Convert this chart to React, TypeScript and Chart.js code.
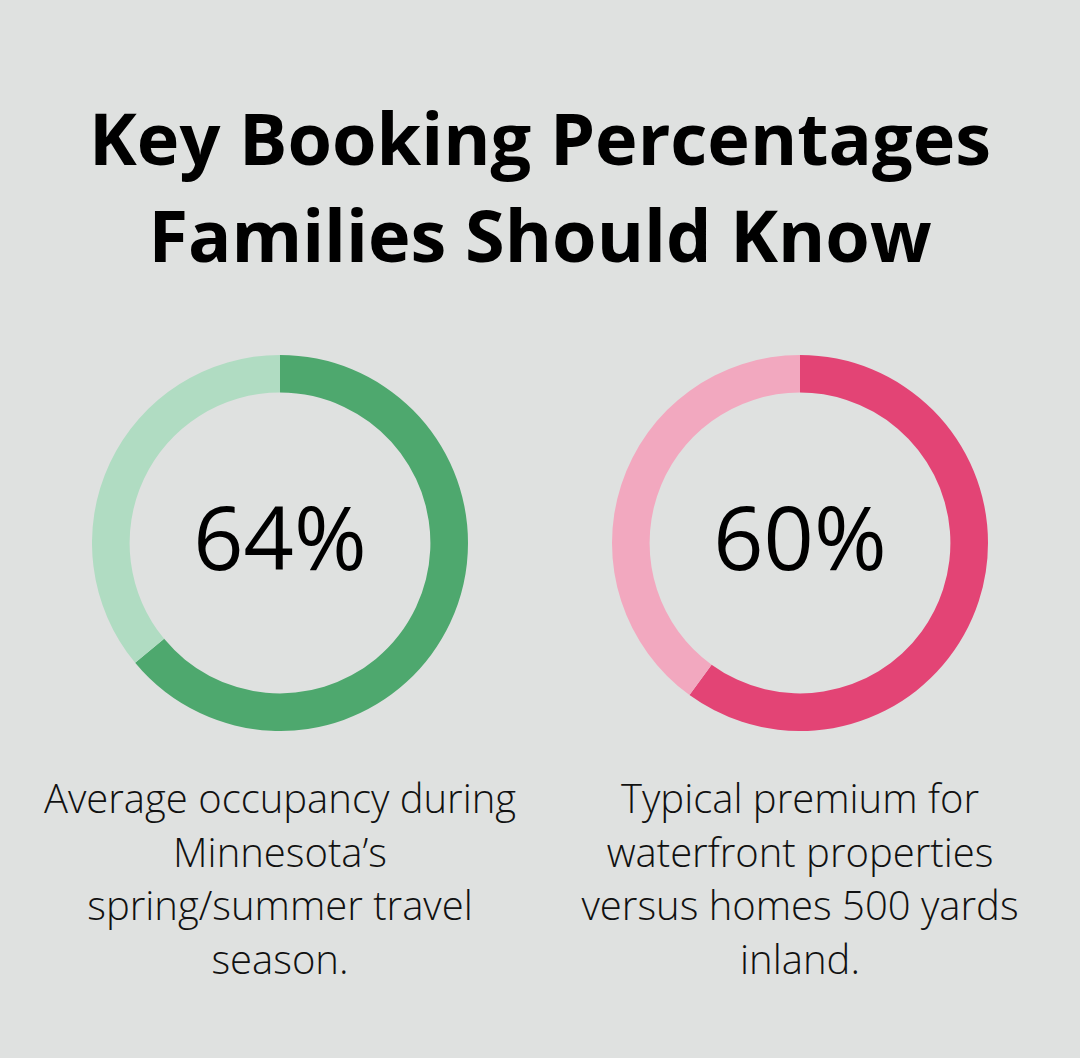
import React, { useEffect, useRef } from "react";
import { Chart, registerables } from "chart.js";

Chart.register(...registerables);

const titleLines = ["Key Booking Percentages", "Families Should Know"];
const percentValues = [64, 60];
const valueLabels = ["64%", "60%"];
const captionLines = [
  ["Average occupancy during", "Minnesota\u2019s", "spring/summer travel", "season."],
  ["Typical premium for", "waterfront properties", "versus homes 500 yards", "inland."],
];
const mainColors = ["#4ea86e", "#e34475"];
const restColors = ["#b0dcc2", "#f2a8bf"];
const centersX = [280, 800];

const FONT = "'Open Sans', 'Noto Sans', sans-serif";

function Donut({ idx }: { idx: number }) {
  const ref = useRef<HTMLCanvasElement | null>(null);
  useEffect(() => {
    if (!ref.current) return;
    const v = percentValues[idx];
    const chart = new Chart(ref.current, {
      type: "doughnut",
      data: {
        labels: ["value", "rest"],
        datasets: [
          {
            data: [v, 100 - v],
            backgroundColor: [mainColors[idx], restColors[idx]],
            borderWidth: 0,
          },
        ],
      },
      options: {
        responsive: false,
        animation: false,
        cutout: "80%",
        layout: { padding: 0 },
        plugins: { legend: { display: false }, tooltip: { enabled: false } },
      },
    });
    return () => chart.destroy();
  }, [idx]);
  const size = 376;
  const cx = centersX[idx];
  return (
    <>
      <canvas
        ref={ref}
        width={size}
        height={size}
        style={{ position: "absolute", left: cx - size / 2, top: 543 - size / 2, width: size, height: size }}
      />
      <div
        style={{
          position: "absolute",
          left: cx - 200,
          width: 400,
          top: 476,
          height: 120,
          lineHeight: "120px",
          textAlign: "center",
          fontFamily: FONT,
          fontWeight: 500,
          fontSize: 88,
          color: "#000",
        }}
      >
        {valueLabels[idx]}
      </div>
      <div
        style={{
          position: "absolute",
          left: cx - 260,
          width: 520,
          top: 771,
          textAlign: "center",
          fontFamily: FONT,
          fontWeight: 300,
          fontSize: 40,
          lineHeight: "53.5px",
          color: "#111",
        }}
      >
        {captionLines[idx].map((l, i) => (
          <div key={i}>{l}</div>
        ))}
      </div>
    </>
  );
}

export default function App() {
  return (
    <div
      style={{
        position: "absolute",
        left: 0,
        top: 0,
        width: 1080,
        height: 1058,
        background: "#dfe1e0",
        overflow: "hidden",
      }}
    >
      <div
        style={{
          position: "absolute",
          left: 0,
          width: 1080,
          top: 89,
          textAlign: "center",
          fontFamily: FONT,
          fontWeight: 700,
          fontSize: 72,
          lineHeight: "97px",
          color: "#000",
        }}
      >
        {titleLines.map((l, i) => (
          <div key={i}>{l}</div>
        ))}
      </div>
      <Donut idx={0} />
      <Donut idx={1} />
    </div>
  );
}
